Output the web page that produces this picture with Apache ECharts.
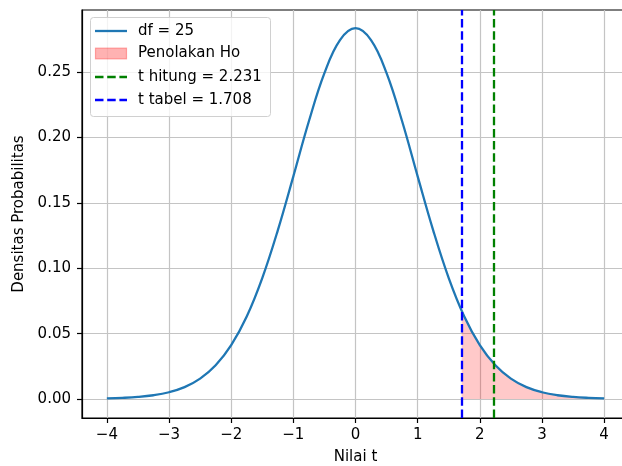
<!DOCTYPE html>
<html>
<head>
<meta charset="utf-8">
<script src="https://cdn.jsdelivr.net/npm/echarts@6/dist/echarts.min.js"></script>
<style>
  html, body { margin: 0; padding: 0; background: #fff; }
  #chart { width: 622px; height: 466px; }
</style>
</head>
<body>
<div id="chart"></div>
<script>
// t values along the curve and the density at each
const tValues = [-4, -3.75, -3.5, -3.25, -3, -2.75, -2.5, -2.25, -2, -1.75, -1.5, -1.25, -1, -0.75, -0.5, -0.25,
  0, 0.25, 0.5, 0.75, 1, 1.25, 1.5, 1.75, 2, 2.25, 2.5, 2.75, 3, 3.25, 3.5, 3.75, 4];
const density = [0.0005, 0.0009, 0.0016, 0.0029, 0.0052, 0.0091, 0.0156, 0.0258, 0.0412, 0.0631, 0.0925, 0.1290, 0.1703, 0.2124, 0.2492, 0.2745,
  0.2836, 0.2745, 0.2492, 0.2124, 0.1703, 0.1290, 0.0925, 0.0631, 0.0412, 0.0258, 0.0156, 0.0091, 0.0052, 0.0029, 0.0016, 0.0009, 0.0005];

// critical values
const df = 25;
const tHitung = 2.231;
const tTabel = 1.708;
const densityAtTabel = 0.0675;

// tick labels
const xTicks = [-4, -3, -2, -1, 0, 1, 2, 3, 4];
const yTicks = [0, 0.05, 0.10, 0.15, 0.20, 0.25];

const curve = tValues.map((t, i) => [t, density[i]]);
const rejection = [[tTabel, densityAtTabel]].concat(curve.filter(p => p[0] > tTabel));

const FONT = 'DejaVu Sans';
const fmtNum = (v, d) => v.toFixed(d).replace('-', '\u2212');

const chart = echarts.init(document.getElementById('chart'), null, { renderer: 'canvas' });

const legendItems = [
  { kind: 'line', color: '#1f77b4', dash: null, text: 'df = ' + df, cy: 31 },
  { kind: 'patch', color: 'rgba(255,0,0,0.3)', text: 'Penolakan Ho', cy: 53 },
  { kind: 'line', color: '#008000', dash: [8.5, 3.7], text: 't hitung = ' + tHitung.toFixed(3), cy: 77 },
  { kind: 'line', color: '#0000ff', dash: [8.5, 3.7], text: 't tabel = ' + tTabel.toFixed(3), cy: 100 }
];

const legendGraphics = [{
  type: 'rect', shape: { x: 90.5, y: 17.5, width: 180, height: 99, r: 3 },
  style: { fill: 'rgba(255,255,255,0.8)', stroke: '#d0d0d0', lineWidth: 1 }, z: 100
}];
legendItems.forEach(it => {
  if (it.kind === 'line') {
    legendGraphics.push({
      type: 'line', shape: { x1: 95, y1: it.cy, x2: 127, y2: it.cy },
      style: { stroke: it.color, lineWidth: 2.3, lineDash: it.dash }, z: 101
    });
  } else {
    legendGraphics.push({
      type: 'rect', shape: { x: 95.5, y: it.cy - 5, width: 31, height: 11 },
      style: { fill: it.color, stroke: 'rgba(255,0,0,0.3)', lineWidth: 1.2 }, z: 101
    });
  }
  legendGraphics.push({
    type: 'text', x: 138, y: it.cy,
    style: { text: it.text, fontFamily: FONT, fontSize: 15, fill: '#000', verticalAlign: 'middle', align: 'left' },
    z: 101
  });
});

const vLine = (x, color) => ({
  silent: true, symbol: ['none', 'none'], label: { show: false },
  lineStyle: { color: color, width: 2.3, type: [8.5, 3.7] },
  data: [{ xAxis: x }]
});

chart.setOption({
  animation: false,
  backgroundColor: '#fff',
  textStyle: { fontFamily: FONT },
  grid: {
    left: 82, top: 10, width: 547, height: 408, show: true, borderColor: '#000', borderWidth: 1.2,
    containLabel: false, outerBoundsMode: 'none'
  },
  xAxis: {
    type: 'value', min: -4.4, max: 4.4,
    name: 'Nilai t', nameLocation: 'middle', nameGap: 32,
    nameTextStyle: { fontFamily: FONT, fontSize: 15, color: '#000' },
    axisLine: { show: true, onZero: false, lineStyle: { color: '#000', width: 1.2 } },
    axisTick: { show: true, inside: false, length: 5, lineStyle: { color: '#000', width: 1.2 }, customValues: xTicks },
    axisLabel: { customValues: xTicks, fontFamily: FONT, fontSize: 15, color: '#000', margin: 10, formatter: v => fmtNum(v, 0) },
    splitLine: { show: true, lineStyle: { color: '#c4c4c4', width: 1.2 } }
  },
  yAxis: {
    type: 'value', min: -0.0145, max: 0.2975,
    name: 'Densitas Probabilitas', nameLocation: 'middle', nameGap: 49,
    nameTextStyle: { fontFamily: FONT, fontSize: 15, color: '#000' },
    axisLine: { show: true, onZero: false, lineStyle: { color: '#000', width: 1.2 } },
    axisTick: { show: true, inside: false, length: 5, lineStyle: { color: '#000', width: 1.2 }, customValues: yTicks },
    axisLabel: { customValues: yTicks, fontFamily: FONT, fontSize: 15, color: '#000', margin: 11, formatter: v => fmtNum(v, 2) },
    splitLine: { show: true, lineStyle: { color: '#c4c4c4', width: 1.2 } }
  },
  graphic: legendGraphics,
  series: [
    {
      name: 'Penolakan Ho', type: 'line', data: rejection, smooth: 0.4, showSymbol: false, silent: true,
      lineStyle: { width: 0 }, areaStyle: { color: 'rgba(255,0,0,0.3)', origin: 0 }, z: 1
    },
    {
      name: 'df = ' + df, type: 'line', data: curve, smooth: 0.4, showSymbol: false, silent: true,
      lineStyle: { color: '#1f77b4', width: 2.3 }, z: 3
    },
    {
      name: 't hitung', type: 'line', data: [], z: 4, markLine: vLine(tHitung, '#008000')
    },
    {
      name: 't tabel', type: 'line', data: [], z: 4, markLine: vLine(tTabel, '#0000ff')
    }
  ]
});
</script>
</body>
</html>
